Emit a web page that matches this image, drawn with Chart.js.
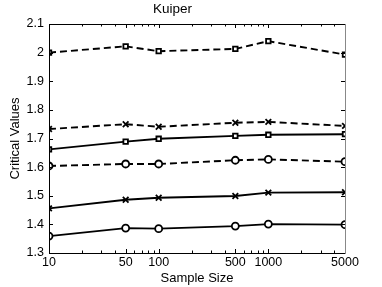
<!DOCTYPE html>
<html>
<head>
<meta charset="utf-8">
<script src="https://cdn.jsdelivr.net/npm/chart.js@4"></script>
<style>
  html, body { margin: 0; padding: 0; background: #fff; }
  #wrap { width: 382px; height: 287px; }
</style>
</head>
<body>
<div id="wrap"><canvas id="myChart" width="382" height="287"></canvas></div>
<script>
// sample sizes (x, log axis)
const sampleSizes = [10, 50, 100, 500, 1000, 5000];
const majorTicks = [10, 50, 100, 500, 1000, 5000];
const minorTicks = [20, 30, 40, 60, 70, 80, 90, 200, 300, 400, 600, 700, 800, 900, 2000, 3000, 4000];
const yTicks = [1.3, 1.4, 1.5, 1.6, 1.7, 1.8, 1.9, 2.0, 2.1];

// critical values
const dashSquares = [2.000, 2.022, 2.005, 2.013, 2.040, 1.993];
const dashCrosses = [1.733, 1.750, 1.741, 1.755, 1.758, 1.744];
const solidSquares = [1.662, 1.689, 1.699, 1.709, 1.713, 1.715];
const dashCircles = [1.604, 1.611, 1.611, 1.624, 1.627, 1.619];
const solidCrosses = [1.456, 1.486, 1.493, 1.499, 1.511, 1.512];
const solidCircles = [1.359, 1.387, 1.385, 1.394, 1.401, 1.399];

const font = 'Liberation Sans, Arial, Helvetica, sans-serif';

function series(values, marker, dashed) {
    return {
        data: sampleSizes.map((x, i) => ({x: x, y: values[i]})),
        borderColor: '#000',
        borderWidth: 1.9,
        borderDash: dashed ? [7, 4] : [],
        pointStyle: marker,
        pointRadius: marker === 'crossRot' ? 4 : (marker === 'rect' ? 3.2 : 3.5),
        pointBorderWidth: 1.8,
        pointBorderColor: '#000',
        pointBackgroundColor: '#fff',
        tension: 0,
        fill: false
    };
}

// matlab style box with inward ticks
const boxPlugin = {
    id: 'box',
    afterDraw(chart) {
        const ctx = chart.ctx;
        const a = chart.chartArea;
        const xs = chart.scales.x, ys = chart.scales.y;
        ctx.save();
        ctx.lineWidth = 1;
        ctx.strokeStyle = '#000';
        ctx.beginPath();
        // top + left + bottom
        ctx.moveTo(a.right, a.top + 0.5);
        ctx.lineTo(a.left + 0.5, a.top + 0.5);
        ctx.lineTo(a.left + 0.5, a.bottom + 0.5);
        ctx.lineTo(a.right, a.bottom + 0.5);
        for (const v of majorTicks.concat(minorTicks)) {
            const px = Math.round(xs.getPixelForValue(v)) + 0.5;
            const len = majorTicks.includes(v) ? 4 : 2.5;
            ctx.moveTo(px, a.bottom);
            ctx.lineTo(px, a.bottom - len);
            ctx.moveTo(px, a.top);
            ctx.lineTo(px, a.top + len);
        }
        for (const v of yTicks) {
            const py = Math.round(ys.getPixelForValue(v)) + 0.5;
            ctx.moveTo(a.left, py);
            ctx.lineTo(a.left + 4, py);
            ctx.moveTo(a.right, py);
            ctx.lineTo(a.right - 4, py);
        }
        ctx.stroke();
        ctx.strokeStyle = '#888';
        ctx.beginPath();
        ctx.moveTo(a.right + 0.5, a.top);
        ctx.lineTo(a.right + 0.5, a.bottom + 1);
        ctx.stroke();
        ctx.restore();
    }
};

const ctx = document.getElementById('myChart').getContext('2d');
const chart = new Chart(ctx, {
    type: 'line',
    data: {
        datasets: [
            series(dashSquares, 'rect', true),
            series(dashCrosses, 'crossRot', true),
            series(solidSquares, 'rect', false),
            series(dashCircles, 'circle', true),
            series(solidCrosses, 'crossRot', false),
            series(solidCircles, 'circle', false)
        ]
    },
    options: {
        responsive: false,
        animation: false,
        layout: { padding: { left: 0, right: 37, top: 0, bottom: 0 } },
        plugins: {
            legend: { display: false },
            tooltip: { enabled: false },
            title: {
                display: true,
                text: 'Kuiper',
                color: '#000',
                font: { family: font, size: 13.5, weight: 'normal' },
                padding: { top: 1, bottom: 6.8 }
            }
        },
        scales: {
            x: {
                type: 'logarithmic',
                min: 10,
                max: 5000,
                afterBuildTicks(s) {
                    s.ticks = majorTicks.concat(minorTicks).sort((p, q) => p - q).map(v => ({value: v}));
                },
                afterFit(s) { s.height = 34; },
                grid: { display: false, drawTicks: false },
                border: { display: false },
                ticks: {
                    autoSkip: false,
                    maxRotation: 0,
                    padding: 2,
                    color: '#000',
                    font: { family: font, size: 12.5 },
                    callback: v => majorTicks.includes(v) ? String(v) : ''
                },
                title: {
                    display: true,
                    text: 'Sample Size',
                    color: '#000',
                    font: { family: font, size: 13 },
                    padding: { top: 0, bottom: 1 }
                }
            },
            y: {
                min: 1.3,
                max: 2.1,
                afterBuildTicks(s) {
                    s.ticks = yTicks.map(v => ({value: v}));
                },
                afterFit(s) { s.width = 49; },
                grid: { display: false, drawTicks: false },
                border: { display: false },
                ticks: {
                    padding: 5,
                    color: '#000',
                    font: { family: font, size: 12.5 },
                    callback: v => String(Math.round(v * 10) / 10)
                },
                title: {
                    display: true,
                    text: 'Critical Values',
                    color: '#000',
                    font: { family: font, size: 13 },
                    padding: { top: 8, bottom: 0 }
                }
            }
        }
    },
    plugins: [boxPlugin]
});
</script>
</body>
</html>
